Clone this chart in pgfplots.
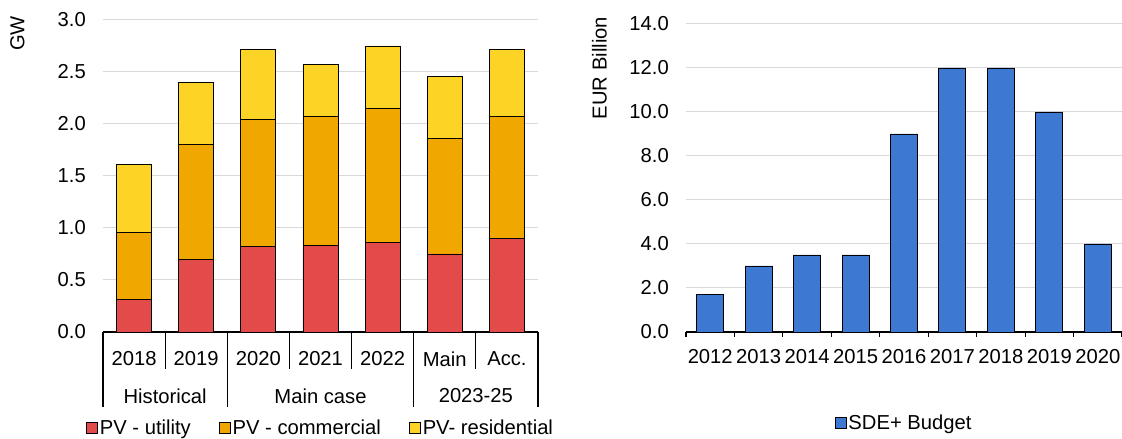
\documentclass[border=0pt]{standalone}
\usepackage{fontspec}
\setmainfont{Liberation Sans}
\usepackage{pgfplots}
\usepackage{pgfplotstable}
\pgfplotsset{compat=1.18}

\definecolor{pvutil}{HTML}{E34B4B}
\definecolor{pvcomm}{HTML}{F0A800}
\definecolor{pvres}{HTML}{FDD326}
\definecolor{sde}{HTML}{3D78D2}
\definecolor{gridgrey}{HTML}{D9D9D9}

% PV additions, GW (stacked pieces)
\pgfplotstableread{
idx util comm res
0 0.31 0.645 0.66
1 0.70 1.105 0.595
2 0.82 1.225 0.675
3 0.83 1.24 0.50
4 0.86 1.29 0.60
5 0.75 1.11 0.60
6 0.895 1.18 0.645
}\pvdata

% SDE+ budget, EUR billion
\pgfplotstableread{
idx budget
0 1.7
1 3.0
2 3.5
3 3.5
4 9.0
5 12.0
6 12.0
7 10.0
8 4.0
}\sdedata

\pgfplotsset{
  sqlegend/.style={
    legend image code/.code={\draw[##1] (0pt,-5.5pt) rectangle (11pt,5.5pt);},
    legend style={draw=none, fill=none, inner sep=0pt,
      nodes={inner sep=1.5pt, anchor=west},
      /tikz/every even column/.append style={column sep=27pt}},
    legend cell align=left,
  },
}

\begin{document}
\begin{tikzpicture}[font=\fontsize{20.2}{24}\selectfont]
\path[use as bounding box] (0,0) rectangle (1122pt,439pt);

% left: stacked PV bars
\begin{axis}[
  at={(103pt,107pt)}, anchor=south west,
  scale only axis, width=435pt, height=312pt,
  ybar stacked, bar width=35pt,
  xmin=-0.5, xmax=6.5, ymin=0, ymax=3,
  axis x line*=bottom, axis y line*=left,
  y axis line style={draw=none},
  x axis line style={-, line width=1.2pt},
  ytick={0,0.5,...,3}, yticklabels={0.0,0.5,1.0,1.5,2.0,2.5,3.0},
  xtick={0,...,6}, xticklabels={2018,2019,2020,2021,2022,Main,Acc.},
  major tick length=0pt,
  xticklabel style={anchor=center, yshift=-27pt},
  yticklabel style={anchor=east, inner sep=0pt, xshift=-17pt},
  ymajorgrids, grid style={gridgrey, line width=1pt},
  clip=false,
  sqlegend, legend columns=3,
  legend style={at={(axis description cs:0.5,-0.3077)}, anchor=center},
]
\addplot[fill=pvutil, draw=black, line width=0.9pt] table[x=idx, y=util] {\pvdata};
\addplot[fill=pvcomm, draw=black, line width=0.9pt] table[x=idx, y=comm] {\pvdata};
\addplot[fill=pvres, draw=black, line width=0.9pt] table[x=idx, y=res] {\pvdata};
\legend{PV - utility, PV - commercial, PV- residential}

% category separators: long at group edges, short inside groups
\draw[line width=1.2pt] (axis cs:-0.5,0) -- ++(0pt,-75pt);
\draw[line width=1.2pt] (axis cs:1.5,0) -- ++(0pt,-75pt);
\draw[line width=1.2pt] (axis cs:4.5,0) -- ++(0pt,-75pt);
\draw[line width=1.2pt] (axis cs:6.5,0) -- ++(0pt,-75pt);
\draw[line width=1.2pt] (axis cs:0.5,0) -- ++(0pt,-37pt);
\draw[line width=1.2pt] (axis cs:2.5,0) -- ++(0pt,-37pt);
\draw[line width=1.2pt] (axis cs:3.5,0) -- ++(0pt,-37pt);
\draw[line width=1.2pt] (axis cs:5.5,0) -- ++(0pt,-37pt);
\node[anchor=center] at ([yshift=-64pt]axis cs:0.5,0) {Historical};
\node[anchor=center] at ([yshift=-64pt]axis cs:3,0) {Main case};
\node[anchor=center] at ([yshift=-64pt]axis cs:5.5,0) {2023-25};
\node[rotate=90, anchor=center] at ([xshift=-85.5pt, yshift=-13.5pt]rel axis cs:0,1) {GW};
\end{axis}

% right: SDE+ budget
\begin{axis}[
  at={(686pt,107pt)}, anchor=south west,
  scale only axis, width=436pt, height=308pt,
  ybar, bar width=27pt,
  xmin=-0.5, xmax=8.5, ymin=0, ymax=14,
  axis x line*=bottom, axis y line*=left,
  y axis line style={draw=none},
  x axis line style={-, line width=1.2pt},
  ytick={0,2,...,14}, yticklabels={0.0,2.0,4.0,6.0,8.0,10.0,12.0,14.0},
  xtick={0,...,8}, xticklabels={2012,2013,2014,2015,2016,2017,2018,2019,2020},
  minor xtick={-0.5,0.5,...,8.5},
  major tick length=0pt, minor tick length=5pt, tick align=outside,
  minor tick style={line width=1.2pt, black},
  xticklabel style={anchor=center, yshift=-25pt},
  yticklabel style={anchor=east, inner sep=0pt, xshift=-17pt},
  ymajorgrids, grid style={gridgrey, line width=1pt},
  clip=false,
  sqlegend,
  legend style={at={(axis description cs:0.5,-0.2955)}, anchor=center},
]
\addplot[fill=sde, draw=black, line width=0.9pt] table[x=idx, y=budget] {\sdedata};
\legend{SDE+ Budget}
\node[rotate=90, anchor=center] at ([xshift=-86.5pt, yshift=-44pt]rel axis cs:0,1) {EUR Billion};
\end{axis}
\end{tikzpicture}
\end{document}
